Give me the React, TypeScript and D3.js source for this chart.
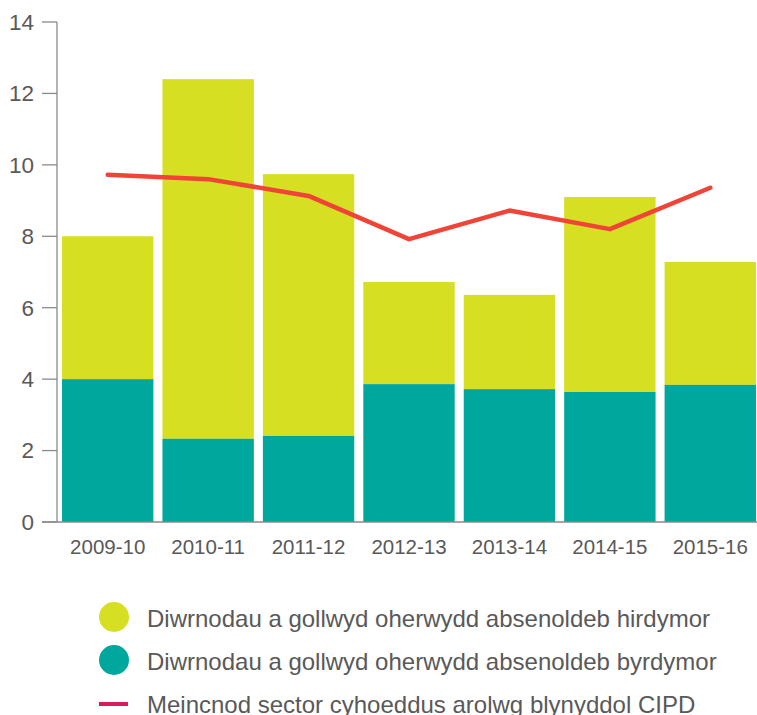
import React from "react";
import * as d3 from "d3";

const categories = ["2009-10", "2010-11", "2011-12", "2012-13", "2013-14", "2014-15", "2015-16"];
const shortTerm = [4.0, 2.33, 2.41, 3.86, 3.72, 3.64, 3.84];
const longTerm = [4.0, 10.07, 7.33, 2.86, 2.64, 5.46, 3.44];
const cipd = [9.72, 9.6, 9.13, 7.92, 8.72, 8.2, 9.36];
const yTicks = [0, 2, 4, 6, 8, 10, 12, 14];
const legendLabels = [
  "Diwrnodau a gollwyd oherwydd absenoldeb hirdymor",
  "Diwrnodau a gollwyd oherwydd absenoldeb byrdymor",
  "Meincnod sector cyhoeddus arolwg blynyddol CIPD",
];

const W = 757;
const H = 715;
const FONT = "'Liberation Sans', Arial, sans-serif";
const TEXT = "#595959";
const AXIS = "#8a8a8a";
const YELLOW = "#D6DF22";
const TEAL = "#00A79D";
const RED = "#F04438";
const PINK = "#D81B5F";

export default function App() {
  const x = d3.scaleBand<string>().domain(categories).range([57.5, 760.5]).paddingInner(0.09).paddingOuter(0.045);
  const y = d3.scaleLinear().domain([0, 14]).range([522, 22]);
  const line = d3
    .line<number>()
    .x((_, i) => (x(categories[i]) as number) + x.bandwidth() / 2)
    .y((d) => y(d));

  return (
    <svg width={W} height={H} style={{ position: "absolute", left: 0, top: 0, fontFamily: FONT }}>
      {categories.map((c, i) => (
        <g key={c}>
          <rect x={x(c)} y={y(shortTerm[i] + longTerm[i])} width={x.bandwidth()} height={y(shortTerm[i]) - y(shortTerm[i] + longTerm[i])} fill={YELLOW} />
          <rect x={x(c)} y={y(shortTerm[i])} width={x.bandwidth()} height={y(0) - y(shortTerm[i])} fill={TEAL} />
        </g>
      ))}
      <line x1={57} x2={57} y1={y(14)} y2={y(0)} stroke={AXIS} strokeWidth={1.3} />
      <line x1={42} x2={757} y1={y(0)} y2={y(0)} stroke={AXIS} strokeWidth={1.3} />
      {yTicks.map((t) => (
        <g key={t}>
          <line x1={42} x2={57} y1={y(t)} y2={y(t)} stroke={AXIS} strokeWidth={1.3} />
          <text x={34} y={y(t)} dy="0.35em" textAnchor="end" fontSize={22.5} fill={TEXT}>
            {t}
          </text>
        </g>
      ))}
      {categories.map((c) => (
        <text key={c} x={(x(c) as number) + x.bandwidth() / 2} y={554} textAnchor="middle" fontSize={20.5} fill={TEXT}>
          {c}
        </text>
      ))}
      <path d={line(cipd) || ""} fill="none" stroke={RED} strokeWidth={4.5} strokeLinecap="round" strokeLinejoin="round" />
      <circle cx={114} cy={617} r={15} fill={YELLOW} />
      <circle cx={114} cy={660} r={15} fill={TEAL} />
      <line x1={99} x2={128} y1={704} y2={704} stroke={PINK} strokeWidth={4} />
      {legendLabels.map((l, i) => (
        <text key={l} x={147} y={627 + i * 43} fontSize={24} fill={TEXT}>
          {l}
        </text>
      ))}
    </svg>
  );
}
